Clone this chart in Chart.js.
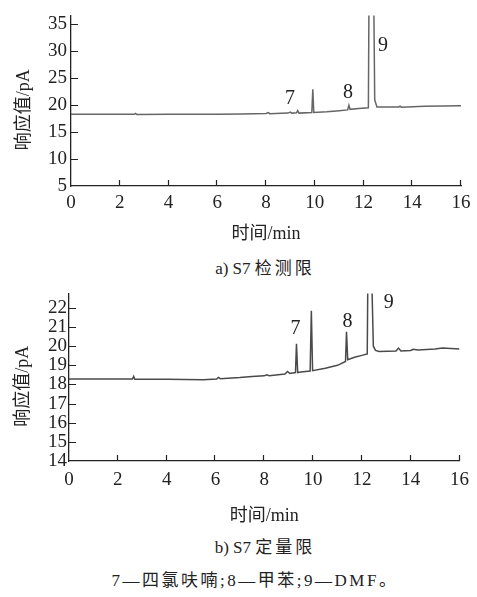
<!DOCTYPE html>
<html><head><meta charset="utf-8">
<script src="https://cdn.jsdelivr.net/npm/chart.js@4.4.0/dist/chart.umd.min.js"></script>
<style>
html,body{margin:0;padding:0;background:#fff;}
#page{position:relative;width:477px;height:597px;overflow:hidden;background:#fff;}
canvas{position:absolute;left:0;}
.cap{position:absolute;white-space:nowrap;font-family:"Liberation Serif","Noto Sans CJK SC",serif;color:#222;transform:translate(-50%,-50%);line-height:1;font-size:17px;}
.cap .w{letter-spacing:3px;}
.cap .v{letter-spacing:2.5px;}
</style></head><body>
<div id="page">
<canvas id="cA" width="477" height="250" style="top:0;width:477px;height:250px;"></canvas>
<canvas id="cB" width="477" height="250" style="top:280px;width:477px;height:250px;"></canvas>
<div class="cap" style="left:265px;top:268px;">a) S7 <span class="w">检测限</span></div>
<div class="cap" style="left:265px;top:547px;">b) S7 <span class="w">定量限</span></div>
<div class="cap" style="left:255px;top:580px;"><span class="v">7—四氯呋喃;8—甲苯;9—DMF。</span></div>
</div>
<script>
// ---------- data ----------
const xTicks = [0, 2, 4, 6, 8, 10, 12, 14, 16];
const yTicksA = [5, 10, 15, 20, 25, 30, 35];
const yTicksB = [14, 15, 16, 17, 18, 19, 20, 21, 22];

// (a) S7 detection limit chromatogram
const timeA = [0, 1.5, 2.6, 2.65, 2.7, 4.0, 6.0, 7.0, 8.0, 8.1, 8.15, 8.9, 9.0, 9.05, 9.25, 9.3, 9.35,
  9.88, 9.92, 9.96, 10.5, 11.0, 11.35, 11.4, 11.45, 11.8, 12.2, 12.25, 12.38, 12.46, 12.55,
  13.0, 13.45, 13.5, 13.55, 14.5, 16.0];
const signalA = [18.3, 18.3, 18.28, 18.45, 18.25, 18.28, 18.3, 18.35, 18.45, 18.6, 18.4, 18.5, 18.7, 18.5, 18.55, 18.95, 18.5,
  18.6, 22.9, 18.6, 18.75, 18.95, 19.1, 19.95, 19.2, 19.35, 19.5, 60, 60, 21.0, 19.65,
  19.65, 19.65, 19.8, 19.6, 19.75, 19.85];

// (b) S7 quantitation limit chromatogram
const timeB = [0, 1.0, 2.6, 2.65, 2.7, 4.0, 5.5, 6.05, 6.12, 6.2, 7.0, 7.5, 8.0, 8.1, 8.2, 8.85, 8.95, 9.05,
  9.28, 9.32, 9.37, 9.5, 9.88, 9.93, 9.98, 10.5, 11.0, 11.33, 11.37, 11.42, 11.7, 12.0, 12.22,
  12.26, 12.36, 12.47, 12.56, 12.7, 13.4, 13.5, 13.6, 14.0, 14.1, 14.3, 15.0, 15.3, 16.0];
const signalB = [18.28, 18.28, 18.28, 18.42, 18.27, 18.27, 18.25, 18.28, 18.37, 18.3, 18.36, 18.42, 18.45, 18.5, 18.46, 18.55, 18.68, 18.58,
  18.62, 20.13, 18.62, 18.65, 18.7, 21.85, 18.72, 18.85, 19.0, 19.2, 20.75, 19.3, 19.42, 19.52, 19.6,
  26, 26, 20.0, 19.78, 19.72, 19.75, 19.9, 19.75, 19.78, 19.84, 19.8, 19.85, 19.9, 19.86];

const peakNames = ['7', '8', '9'];
const peakLabelTimeA = [8.98, 11.36, 12.8];
const peakLabelValA = [21.2, 22.3, 31.0];
const peakLabelTimeB = [9.28, 11.41, 13.1];
const peakLabelValB = [20.92, 21.26, 22.25];

// ---------- rendering ----------
const SERIF = '"Liberation Serif", "Noto Sans CJK SC", serif';
const INK = '#222';

const innerTicks = {
  id: 'innerTicks',
  afterDatasetsDraw(chart, args, o) {
    const {ctx, chartArea: a, scales: {x, y}} = chart;
    ctx.save();
    ctx.strokeStyle = INK; ctx.lineWidth = 1.2;
    ctx.beginPath();
    x.ticks.forEach(t => {
      if (t.value === x.min) return;
      const p = Math.round(x.getPixelForValue(t.value)) - 0.5;
      ctx.moveTo(p, a.bottom); ctx.lineTo(p, a.bottom - o.xLen);
    });
    y.ticks.forEach(t => {
      if (t.value === y.min) return;
      const p = Math.round(y.getPixelForValue(t.value)) + 0.5;
      ctx.moveTo(a.left, p); ctx.lineTo(a.left + o.yLen, p);
    });
    ctx.stroke();
    ctx.fillStyle = INK;
    ctx.font = '20px ' + SERIF;
    ctx.textAlign = 'center'; ctx.textBaseline = 'middle';
    o.names.forEach((n, i) => ctx.fillText(n, x.getPixelForValue(o.tx[i]), y.getPixelForValue(o.ty[i])));
    ctx.restore();
  }
};

function makeChart(id, times, vals, yTicks, yMin, yMax, lay) {
  const pts = times.map((t, i) => ({x: t, y: vals[i]}));
  return new Chart(document.getElementById(id), {
    type: 'line',
    data: {datasets: [{data: pts, borderColor: lay.color, borderWidth: 1.5, pointRadius: 0, tension: 0, fill: false, clip: 0}]},
    options: {
      responsive: false, animation: false,
      layout: {padding: {left: 0, right: lay.right, top: lay.top, bottom: 0}},
      plugins: {legend: {display: false}, tooltip: {enabled: false},
        innerTicks: {xLen: 6, yLen: 7, names: peakNames, tx: lay.tx, ty: lay.ty}},
      scales: {
        x: {
          type: 'linear', min: 0, max: 16,
          afterBuildTicks: s => { s.ticks = xTicks.map(v => ({value: v})); },
          afterFit: s => { s.height = lay.xh; },
          grid: {display: false, drawTicks: false},
          border: {display: true, color: INK, width: 1.3},
          ticks: {autoSkip: false, maxRotation: 0, padding: lay.xpad, color: INK, font: {family: SERIF, size: 19}},
          title: {display: true, text: '时间/min', color: INK, font: {family: SERIF, size: 18}, padding: {top: 0, bottom: lay.xtp}}
        },
        y: {
          type: 'linear', min: yMin, max: yMax,
          afterBuildTicks: s => { s.ticks = yTicks.map(v => ({value: v})); },
          afterFit: s => { s.width = lay.yw; },
          grid: {display: false, drawTicks: false},
          border: {display: true, color: INK, width: 1.3},
          ticks: {autoSkip: false, padding: lay.ypad, color: INK, font: {family: SERIF, size: 19}},
          title: {display: true, text: '响应值/pA\u2002\u2002', color: INK, font: {family: SERIF, size: 18}, padding: {top: lay.ytp, bottom: 0}}
        }
      }
    },
    plugins: [innerTicks]
  });
}

makeChart('cA', timeA, signalA, yTicksA, 5, 36.6,
  {color: '#666', right: 16, top: 14, xh: 64, yw: 71, xpad: 6, ypad: 4, xtp: 5, ytp: 13, tx: peakLabelTimeA, ty: peakLabelValA});
makeChart('cB', timeB, signalB, yTicksB, 14, 22.76,
  {color: '#4a4a4a', right: 14, top: 13, xh: 69, yw: 69, xpad: 8, ypad: 2, xtp: 3, ytp: 12, tx: peakLabelTimeB, ty: peakLabelValB});
</script>
</body></html>
